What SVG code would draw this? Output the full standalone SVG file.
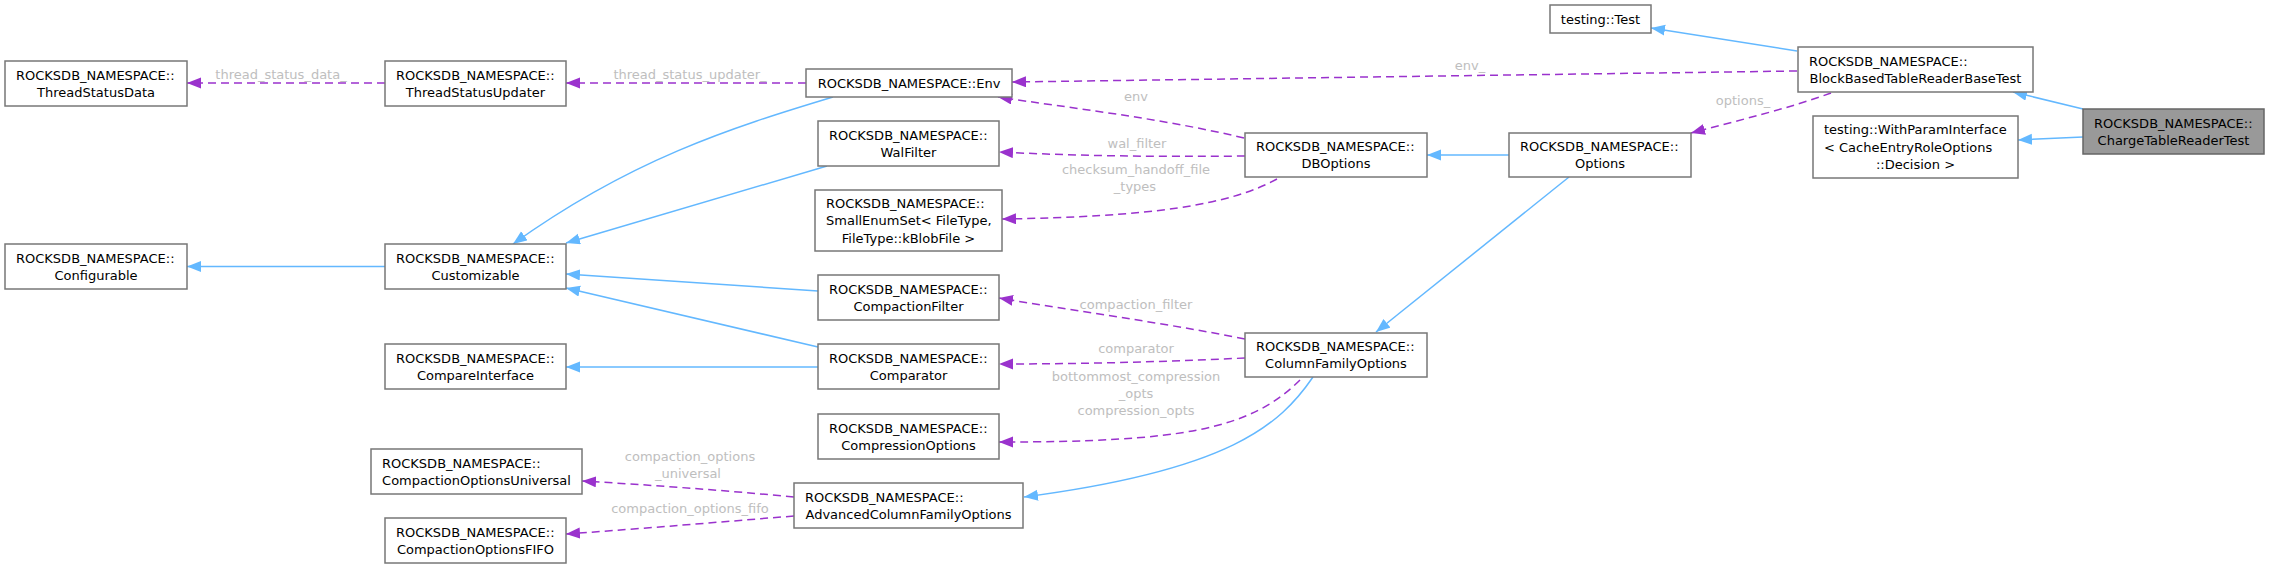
<svg xmlns="http://www.w3.org/2000/svg" width="2269" height="568" viewBox="0 0 2269 568">
<style>
.n rect{fill:#ffffff;stroke:#777777;stroke-width:1.5}
.n.hl rect{fill:#999999;stroke:#666666}
.n text{font-family:"DejaVu Sans",sans-serif;font-size:13px;fill:#000000}
.n text.c{text-anchor:middle}
.inh{fill:none;stroke:#63b8ff;stroke-width:1.5;marker-end:url(#ab)}
.use{fill:none;stroke:#9a32cd;stroke-width:1.5;stroke-dasharray:8,5;marker-end:url(#ap)}
.lbl{font-family:"DejaVu Sans",sans-serif;font-size:13px;fill:#bebebe;text-anchor:middle}
</style>
<defs>
<marker id="ab" markerUnits="userSpaceOnUse" markerWidth="16" markerHeight="12" refX="14" refY="5.5" orient="auto"><path d="M0,0 L14,5.5 L0,11 z" fill="#63b8ff"/></marker>
<marker id="ap" markerUnits="userSpaceOnUse" markerWidth="16" markerHeight="12" refX="14" refY="5.5" orient="auto"><path d="M0,0 L14,5.5 L0,11 z" fill="#9a32cd"/></marker>
</defs>
<rect width="2269" height="568" fill="#ffffff"/>
<g id="connectors">
<path class="inh" d="M385,266.5 L187,266.5"/>
<path class="inh" d="M833,97 C730,128 630,160 513,244"/>
<path class="inh" d="M827,166 L566,243"/>
<path class="inh" d="M818,291 L566,274"/>
<path class="inh" d="M818,347 L566,288"/>
<path class="inh" d="M818,367 L566,367"/>
<path class="inh" d="M1509,155 L1427,155"/>
<path class="inh" d="M1569,177 L1376,332"/>
<path class="inh" d="M1313,377 C1280,425 1230,470 1024,497"/>
<path class="inh" d="M1797,51 L1651,28"/>
<path class="inh" d="M2083,109 L2013,92"/>
<path class="inh" d="M2083,137 L2018,140"/>
<path class="use" d="M385,83 L187,83"/>
<text class="lbl" x="281" y="79">thread_status_data_</text>
<path class="use" d="M806,83 L566,83"/>
<text class="lbl" x="690" y="79">thread_status_updater_</text>
<path class="use" d="M1797,71 L1012,82"/>
<text class="lbl" x="1470" y="70">env_</text>
<path class="use" d="M1244,138 C1160,118 1070,108 998,97"/>
<text class="lbl" x="1136" y="101">env</text>
<path class="use" d="M1245,156 C1160,157 1080,156 999,152"/>
<text class="lbl" x="1137" y="148">wal_filter</text>
<path class="use" d="M1277,179 C1230,205 1150,217 1002,219"/>
<text class="lbl" x="1136" y="174">checksum_handoff_file</text>
<text class="lbl" x="1135" y="191">_types</text>
<path class="use" d="M1245,339 C1160,322 1080,312 999,298"/>
<text class="lbl" x="1136" y="309">compaction_filter</text>
<path class="use" d="M1245,358 C1160,362 1080,364 999,364"/>
<text class="lbl" x="1136" y="353">comparator</text>
<path class="use" d="M1300,380 C1250,430 1180,442 999,442"/>
<text class="lbl" x="1136" y="381">bottommost_compression</text>
<text class="lbl" x="1136" y="398">_opts</text>
<text class="lbl" x="1136" y="415">compression_opts</text>
<path class="use" d="M794,497 C720,490 650,485 582,481"/>
<text class="lbl" x="690" y="461">compaction_options</text>
<text class="lbl" x="688" y="478">_universal</text>
<path class="use" d="M794,516 C720,522 650,528 566,534"/>
<text class="lbl" x="690" y="513">compaction_options_fifo</text>
<path class="use" d="M1831,93 C1790,108 1740,120 1691,133"/>
<text class="lbl" x="1743" y="105">options_</text>
</g>
<g id="n_ThreadStatusData" class="n"><rect x="5" y="61" width="182" height="45"/><text x="16" y="79.6">ROCKSDB_NAMESPACE::</text><text class="c" x="96" y="96.9">ThreadStatusData</text></g>
<g id="n_ThreadStatusUpdater" class="n"><rect x="385" y="61" width="181" height="45"/><text x="396" y="79.6">ROCKSDB_NAMESPACE::</text><text class="c" x="475.5" y="96.9">ThreadStatusUpdater</text></g>
<g id="n_Configurable" class="n"><rect x="5" y="244" width="182" height="45"/><text x="16" y="262.6">ROCKSDB_NAMESPACE::</text><text class="c" x="96" y="279.9">Configurable</text></g>
<g id="n_Customizable" class="n"><rect x="385" y="244" width="181" height="45"/><text x="396" y="262.6">ROCKSDB_NAMESPACE::</text><text class="c" x="475.5" y="279.9">Customizable</text></g>
<g id="n_CompareInterface" class="n"><rect x="385" y="344" width="181" height="45"/><text x="396" y="362.6">ROCKSDB_NAMESPACE::</text><text class="c" x="475.5" y="379.9">CompareInterface</text></g>
<g id="n_CompactionOptionsUniversal" class="n"><rect x="371" y="449" width="211" height="45"/><text x="382" y="467.6">ROCKSDB_NAMESPACE::</text><text class="c" x="476.5" y="484.9">CompactionOptionsUniversal</text></g>
<g id="n_CompactionOptionsFIFO" class="n"><rect x="385" y="518" width="181" height="45"/><text x="396" y="536.6">ROCKSDB_NAMESPACE::</text><text class="c" x="475.5" y="553.9">CompactionOptionsFIFO</text></g>
<g id="n_Env" class="n"><rect x="806" y="69" width="206" height="28"/><text class="c" x="909" y="87.75">ROCKSDB_NAMESPACE::Env</text></g>
<g id="n_WalFilter" class="n"><rect x="818" y="121" width="181" height="45"/><text x="829" y="139.6">ROCKSDB_NAMESPACE::</text><text class="c" x="908.5" y="156.9">WalFilter</text></g>
<g id="n_SmallEnumSet" class="n"><rect x="815" y="190" width="187" height="61"/><text x="826" y="208">ROCKSDB_NAMESPACE::</text><text x="826" y="225.25">SmallEnumSet&lt; FileType,</text><text class="c" x="908.5" y="242.5">FileType::kBlobFile &gt;</text></g>
<g id="n_CompactionFilter" class="n"><rect x="818" y="275" width="181" height="45"/><text x="829" y="293.6">ROCKSDB_NAMESPACE::</text><text class="c" x="908.5" y="310.9">CompactionFilter</text></g>
<g id="n_Comparator" class="n"><rect x="818" y="344" width="181" height="45"/><text x="829" y="362.6">ROCKSDB_NAMESPACE::</text><text class="c" x="908.5" y="379.9">Comparator</text></g>
<g id="n_CompressionOptions" class="n"><rect x="818" y="414" width="181" height="45"/><text x="829" y="432.6">ROCKSDB_NAMESPACE::</text><text class="c" x="908.5" y="449.9">CompressionOptions</text></g>
<g id="n_AdvancedColumnFamilyOptions" class="n"><rect x="794" y="483" width="229" height="45"/><text x="805" y="501.6">ROCKSDB_NAMESPACE::</text><text class="c" x="908.5" y="518.9">AdvancedColumnFamilyOptions</text></g>
<g id="n_DBOptions" class="n"><rect x="1245" y="133" width="182" height="44"/><text x="1256" y="151.1">ROCKSDB_NAMESPACE::</text><text class="c" x="1336" y="168.4">DBOptions</text></g>
<g id="n_ColumnFamilyOptions" class="n"><rect x="1245" y="333" width="182" height="44"/><text x="1256" y="351.1">ROCKSDB_NAMESPACE::</text><text class="c" x="1336" y="368.4">ColumnFamilyOptions</text></g>
<g id="n_Options" class="n"><rect x="1509" y="133" width="182" height="44"/><text x="1520" y="151.1">ROCKSDB_NAMESPACE::</text><text class="c" x="1600" y="168.4">Options</text></g>
<g id="n_TestingTest" class="n"><rect x="1550" y="5" width="101" height="28"/><text class="c" x="1600.5" y="23.75">testing::Test</text></g>
<g id="n_BlockBasedTableReaderBaseTest" class="n"><rect x="1798" y="47" width="235" height="45"/><text x="1809" y="65.6">ROCKSDB_NAMESPACE::</text><text class="c" x="1915.5" y="82.9">BlockBasedTableReaderBaseTest</text></g>
<g id="n_WithParamInterface" class="n"><rect x="1813" y="116" width="205" height="62"/><text x="1824" y="134.45">testing::WithParamInterface</text><text x="1824" y="151.75">&lt; CacheEntryRoleOptions</text><text class="c" x="1915.5" y="169.05">::Decision &gt;</text></g>
<g id="n_ChargeTableReaderTest" class="n hl"><rect x="2083" y="109" width="181" height="45"/><text x="2094" y="127.6">ROCKSDB_NAMESPACE::</text><text class="c" x="2173.5" y="144.9">ChargeTableReaderTest</text></g>
</svg>
